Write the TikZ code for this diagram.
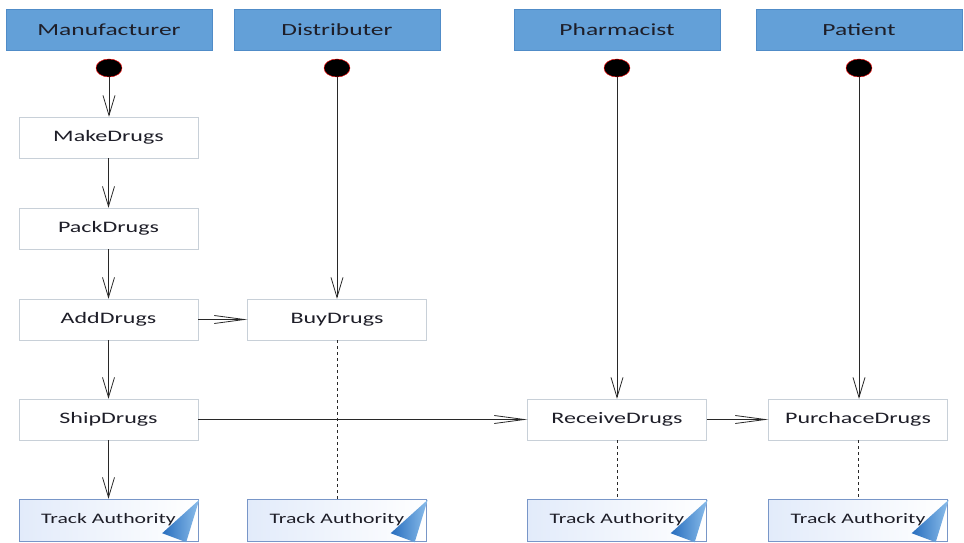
\documentclass[tikz,border=0pt]{standalone}
\usepackage{fontspec}
\setmainfont{Carlito}
\usetikzlibrary{arrows.meta,shapes.geometric}
\definecolor{hdr}{RGB}{99,160,216}
\definecolor{hdrb}{RGB}{80,140,200}
\definecolor{boxb}{RGB}{200,208,216}
\definecolor{trb}{RGB}{120,150,200}
\definecolor{trl}{RGB}{226,235,250}
\definecolor{linec}{RGB}{40,40,40}
\definecolor{txt}{RGB}{30,30,40}
\definecolor{fold1}{RGB}{40,110,190}
\definecolor{fold2}{RGB}{140,190,235}
\newcommand\sx[1]{\scalebox{1.5}[1]{#1}}
\begin{document}
\begin{tikzpicture}[x=1pt,y=-1pt,
  hdrbox/.style={draw=hdrb, fill=hdr, minimum width=206pt, minimum height=41pt, inner sep=0pt, text=txt, font=\fontsize{17}{19}\selectfont},
  act/.style={draw=boxb, fill=white, minimum width=179pt, minimum height=41pt, inner sep=0pt, text=txt, font=\fontsize{16}{18}\selectfont},
  track/.style={draw=trb, left color=trl, right color=white, minimum width=179pt, minimum height=42pt, inner sep=0pt, text=txt, font=\fontsize{14.5}{16}\selectfont},
  startdot/.style={ellipse, draw=red, fill=black, minimum width=26pt, minimum height=18pt, inner sep=0pt},
  varr/.style={draw=linec, line width=0.8pt, -{Straight Barb[length=20pt,width=12pt]}},
  harr/.style={draw=linec, line width=0.8pt, -{Straight Barb[length=30pt,width=8pt]}},
  dline/.style={draw=linec, line width=1pt, dash pattern=on 3pt off 3pt}]
\useasboundingbox (0,0) rectangle (964,543);
\fill[white] (0,0) rectangle (964,543);
% headers
\node[hdrbox] (h1) at (109,29.5) {\sx{Manufacturer}};
\node[hdrbox] (h2) at (337,29.5) {\sx{Distributer}};
\node[hdrbox] (h3) at (617,29.5) {\sx{Pharmacist}};
\node[hdrbox] (h4) at (859,29.5) {\sx{Patient}};
% start dots
\node[startdot] (s1) at (109,68) {};
\node[startdot] (s2) at (337,68) {};
\node[startdot] (s3) at (617,68) {};
\node[startdot] (s4) at (859,68) {};
% activities
\node[act] (make) at (108.5,137.5) {\sx{MakeDrugs}};
\node[act] (pack) at (108.5,228.5) {\sx{PackDrugs}};
\node[act] (add) at (108.5,319.5) {\sx{AddDrugs}};
\node[act] (ship) at (108.5,419.5) {\sx{ShipDrugs}};
\node[act] (buy) at (337,319.5) {\sx{BuyDrugs}};
\node[act] (recv) at (617,419.5) {\sx{ReceiveDrugs}};
\node[act] (purch) at (858,419.5) {\sx{PurchaceDrugs}};
% track authority
\foreach \n/\x in {t1/108.5,t2/337,t3/617,t4/858}{
  \node[track] (\n) at (\x,520) {\sx{Track Authority}};
  \shade[left color=fold1, right color=fold2]
    ([shift={(1,1)}]\n.north east) -- ([shift={(-36,-8)}]\n.south east)
    -- ([shift={(-12,1)}]\n.south east) -- cycle;
}
% connectors
\draw[varr] (s1) -- (s1 |- make.north);
\draw[varr] (make) -- (pack);
\draw[varr] (pack) -- (add);
\draw[varr] (add) -- (ship);
\draw[varr] (ship) -- (t1);
\draw[varr] (s2) -- (s2 |- buy.north);
\draw[varr] (s3) -- (s3 |- recv.north);
\draw[varr] (s4) -- (s4 |- purch.north);
\draw[harr] (add) -- (buy);
\draw[harr] (ship) -- (recv);
\draw[harr] (recv) -- (purch);
\draw[dline] (buy) -- (t2);
\draw[dline] (recv) -- (t3);
\draw[dline] (purch) -- (t4);
\end{tikzpicture}
\end{document}
